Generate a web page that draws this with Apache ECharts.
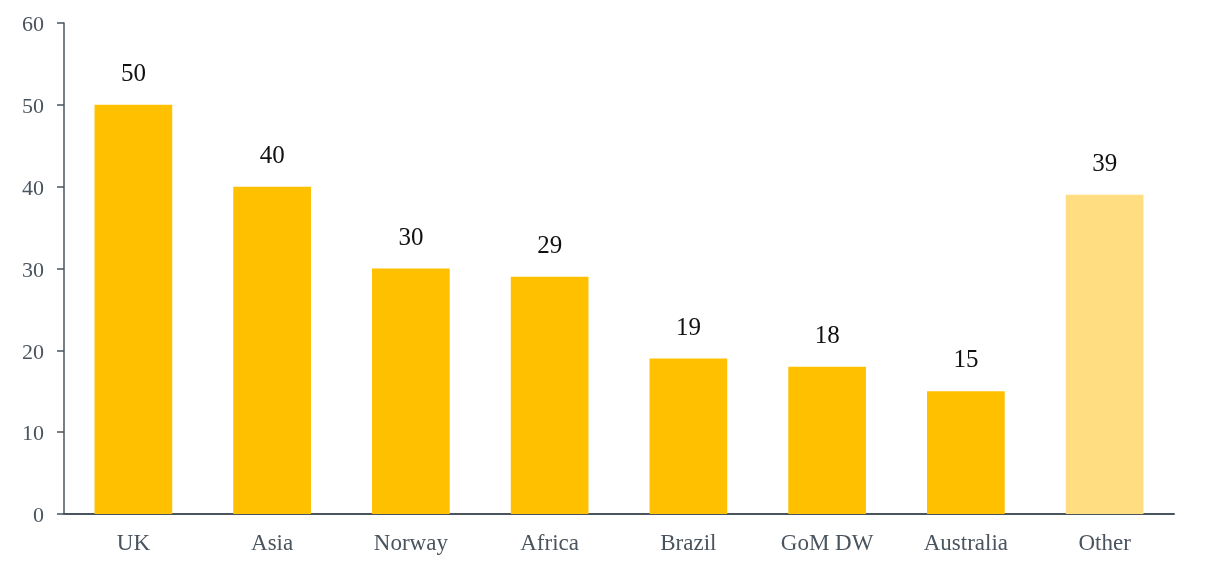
<!DOCTYPE html>
<html>
<head>
<meta charset="utf-8">
<script src="https://cdn.jsdelivr.net/npm/echarts@6/dist/echarts.min.js"></script>
<style>
  html, body { margin: 0; padding: 0; background: #fff; }
  #chart { width: 1212px; height: 567px; }
</style>
</head>
<body>
<div id="chart"></div>
<script>
// Regions and their counts
const categories = ['UK', 'Asia', 'Norway', 'Africa', 'Brazil', 'GoM DW', 'Australia', 'Other'];
const values = [50, 40, 30, 29, 19, 18, 15, 39];
const yTicks = [0, 10, 20, 30, 40, 50, 60];

const mainColor = '#FFC000';
const otherColor = '#FFDD80';
const axisColor = '#4A545E';
const font = '"Liberation Serif", "Times New Roman", serif';

const chart = echarts.init(document.getElementById('chart'));
chart.setOption({
  animation: false,
  grid: { left: 64, right: 38, top: 23, bottom: 53, containLabel: false },
  xAxis: {
    type: 'category',
    data: categories,
    axisLine: { lineStyle: { color: axisColor, width: 2 } },
    axisTick: { show: false },
    axisLabel: { color: axisColor, fontFamily: font, fontSize: 23, margin: 18 }
  },
  yAxis: {
    type: 'value',
    min: yTicks[0],
    max: yTicks[yTicks.length - 1],
    interval: 10,
    axisLine: { show: true, lineStyle: { color: axisColor, width: 1.5 } },
    axisTick: { show: true, length: 7, lineStyle: { color: axisColor, width: 1.5 } },
    splitLine: { show: false },
    axisLabel: {
      margin: 20,
      formatter: '{t|{value}}',
      rich: {
        t: { color: axisColor, fontFamily: font, fontSize: 22, padding: [5, 0, 0, 0] }
      }
    }
  },
  series: [{
    type: 'bar',
    barWidth: '56%',
    data: values.map((v, i) => ({
      value: v,
      itemStyle: { color: categories[i] === 'Other' ? otherColor : mainColor }
    })),
    label: {
      show: true,
      position: 'top',
      distance: 18,
      color: '#111',
      fontFamily: font,
      fontSize: 25
    }
  }]
});
</script>
</body>
</html>
